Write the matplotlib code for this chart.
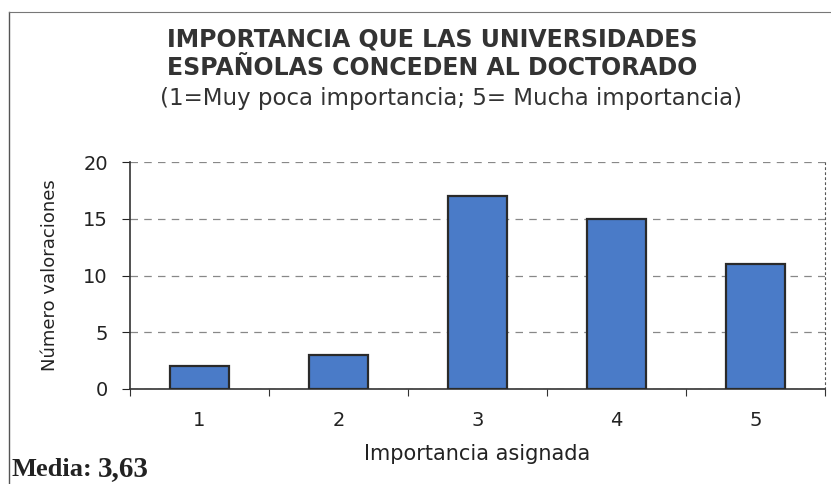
import numpy as np
import matplotlib.pyplot as plt
from matplotlib.lines import Line2D

# Data
categories = ['1', '2', '3', '4', '5']
valoraciones = [2, 3, 17, 15, 11]
media = '3,63'

plt.rcParams['font.family'] = ['DejaVu Sans']

W, H = 831, 484
fig = plt.figure(figsize=(W / 100, H / 100), dpi=100)

# axes box in pixels: left 130, right 825, top 162, bottom 389
ax = fig.add_axes([130 / W, 1 - 389 / H, (825 - 130) / W, (389 - 162) / H])

x = np.arange(len(categories))
ax.bar(x, valoraciones, width=0.42, color='#4a7bc8', edgecolor='#2a2a2a', linewidth=1.6, zorder=3)

ax.set_xlim(-0.5, len(categories) - 0.5)
ax.set_ylim(0, 20)
ax.set_yticks([0, 5, 10, 15, 20])
ax.yaxis.grid(True, linestyle=(0, (6, 5)), color='#888888', linewidth=0.9)
ax.set_axisbelow(True)

# x ticks at category boundaries, labels centered
ax.set_xticks(np.arange(-0.5, len(categories) + 0.5, 1))
ax.set_xticklabels([])
ax.set_xticks(x, minor=True)
ax.set_xticklabels(categories, minor=True)
ax.tick_params(axis='x', which='minor', length=0, pad=16, labelsize=14, colors='#222222')
ax.tick_params(axis='x', which='major', length=5, direction='out', color='#333333')
ax.tick_params(axis='y', length=6, labelsize=14, colors='#222222', pad=10)

for s in ['left', 'bottom']:
    ax.spines[s].set_color('#333333')
    ax.spines[s].set_linewidth(1.2)
ax.spines['top'].set_visible(False)
ax.spines['right'].set_linestyle((0, (1.5, 3)))
ax.spines['right'].set_color('#555555')

ax.set_ylabel('Número valoraciones', fontsize=13, color='#222222', labelpad=17)
ax.set_xlabel('Importancia asignada', fontsize=15, color='#222222', labelpad=10)

# titles
fig.text(432 / W, 1 - 40 / H, 'IMPORTANCIA QUE LAS UNIVERSIDADES', ha='center', va='center',
         fontsize=17, fontweight='bold', color='#333333')
fig.text(432 / W, 1 - 68 / H, 'ESPAÑOLAS CONCEDEN AL DOCTORADO', ha='center', va='center',
         fontsize=17, fontweight='bold', color='#333333')
fig.text(451 / W, 1 - 99 / H, '(1=Muy poca importancia; 5= Mucha importancia)', ha='center', va='center',
         fontsize=16.5, color='#333333')

# frame around chart
fig.add_artist(Line2D([9 / W, 9 / W], [0, 1 - 12 / H], transform=fig.transFigure, color='#555555', lw=1))
fig.add_artist(Line2D([9 / W, 1], [1 - 12 / H, 1 - 12 / H], transform=fig.transFigure, color='#777777', lw=0.8))

# mean annotation
fig.text(12 / W, 1 - 476 / H, 'Media:', ha='left', va='baseline', fontsize=19,
         fontweight='bold', family='Liberation Serif', color='#222222')
fig.text(98 / W, 1 - 476 / H, media, ha='left', va='baseline', fontsize=21,
         fontweight='bold', family='Liberation Serif', color='#222222')

fig.savefig('out.png', dpi=100)
